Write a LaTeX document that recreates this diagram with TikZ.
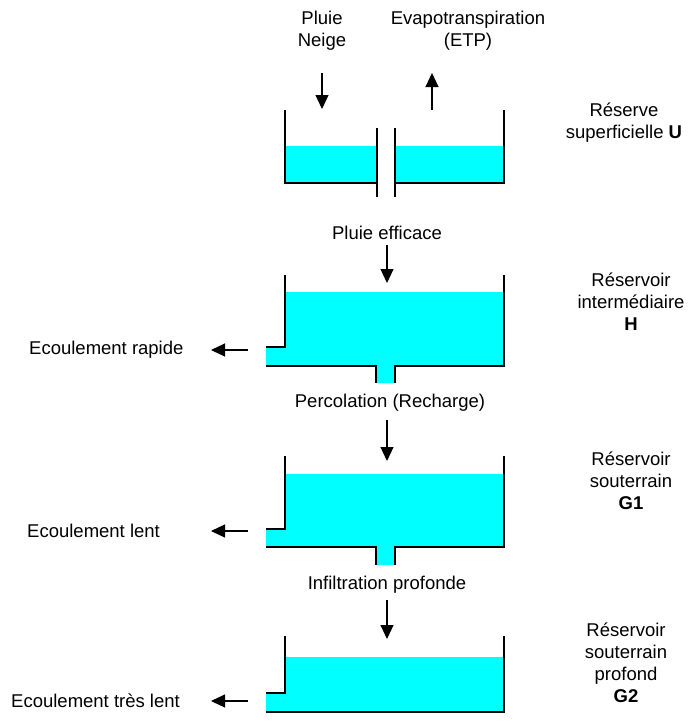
\documentclass[tikz,border=0pt]{standalone}
\usepackage{fontspec}
\setmainfont{Liberation Sans}
\usetikzlibrary{arrows.meta}
\definecolor{water}{RGB}{0,255,255}
\begin{document}
\begin{tikzpicture}[x=1pt,y=-1pt,
  wall/.style={line width=1.3pt, line join=miter},
  waterfill/.style={fill=water, draw=none},
  lab/.style={font=\fontsize{18.5}{22}\selectfont, align=center, inner sep=0pt},
  flow/.style={-{Triangle[length=14pt,width=13pt]}, line width=1.1pt}]
\useasboundingbox (0,0) rectangle (695,724);

% ---------- Tank U ----------
\fill[waterfill] (285,146) rectangle (377,183);
\fill[waterfill] (395,146) rectangle (504,183);
\draw[wall] (285,110) -- (285,183) -- (377,183);
\draw[wall] (377,128) -- (377,197);
\draw[wall] (395,128) -- (395,197);
\draw[wall] (395,183) -- (504,183) -- (504,110);

% ---------- Tank H ----------
\fill[waterfill] (266,347) -- (285,347) -- (285,292) -- (504,292) -- (504,366) -- (395,366) -- (395,383) -- (376,383) -- (376,366) -- (266,366) -- cycle;
\draw[wall] (285,275) -- (285,347) -- (266,347);
\draw[wall] (266,366) -- (376,366) -- (376,383);
\draw[wall] (395,383) -- (395,366) -- (504,366) -- (504,275);

% ---------- Tank G1 ----------
\fill[waterfill] (266,529) -- (285,529) -- (285,474) -- (504,474) -- (504,547) -- (395,547) -- (395,565) -- (376,565) -- (376,547) -- (266,547) -- cycle;
\draw[wall] (285,456) -- (285,529) -- (266,529);
\draw[wall] (266,547) -- (376,547) -- (376,565);
\draw[wall] (395,565) -- (395,547) -- (504,547) -- (504,456);

% ---------- Tank G2 ----------
\fill[waterfill] (266,693) -- (285,693) -- (285,657) -- (504,657) -- (504,712) -- (266,712) -- cycle;
\draw[wall] (285,636) -- (285,693) -- (266,693);
\draw[wall] (266,712) -- (504,712) -- (504,636);

% ---------- Labels ----------
\node[lab] (pluie) at (322,31) {Pluie\\Neige};
\node[lab] (etp) at (468,31) {Evapotranspiration\\(ETP)};
\node[lab] (resU) at (624,123) {Réserve\\superficielle \textbf{U}};
\node[lab] (eff) at (387,233) {Pluie efficace};
\node[lab] (resH) at (631,302) {Réservoir\\intermédiaire\\\textbf{H}};
\node[lab, anchor=west] (rap) at (29,350) {Ecoulement rapide};
\node[lab] (perc) at (390,403) {Percolation (Recharge)};
\node[lab] (resG1) at (631,481) {Réservoir\\souterrain\\\textbf{G1}};
\node[lab, anchor=west] (lent) at (27,531) {Ecoulement lent};
\node[lab] (infl) at (387,585) {Infiltration profonde};
\node[lab] (resG2) at (626,663) {Réservoir\\souterrain\\profond\\\textbf{G2}};
\node[lab, anchor=west] (tlent) at (11,701) {Ecoulement très lent};

% ---------- Arrow ends ----------
\coordinate (p1) at (322,73);  \coordinate (p2) at (322,109);
\coordinate (e1) at (432,110); \coordinate (e2) at (432,73);
\coordinate (f1) at (387,245); \coordinate (f2) at (387,283);
\coordinate (c1) at (387,420); \coordinate (c2) at (387,461);
\coordinate (i1) at (387,600); \coordinate (i2) at (387,639);
\coordinate (r1) at (248,350); \coordinate (r2) at (211,350);
\coordinate (l1) at (248,531); \coordinate (l2) at (211,531);
\coordinate (t1) at (248,701); \coordinate (t2) at (211,701);

\draw[flow] (p1) -- (p2);
\draw[flow] (e1) -- (e2);
\draw[flow] (f1) -- (f2);
\draw[flow] (c1) -- (c2);
\draw[flow] (i1) -- (i2);
\draw[flow] (r1) -- (r2);
\draw[flow] (l1) -- (l2);
\draw[flow] (t1) -- (t2);
\end{tikzpicture}
\end{document}
